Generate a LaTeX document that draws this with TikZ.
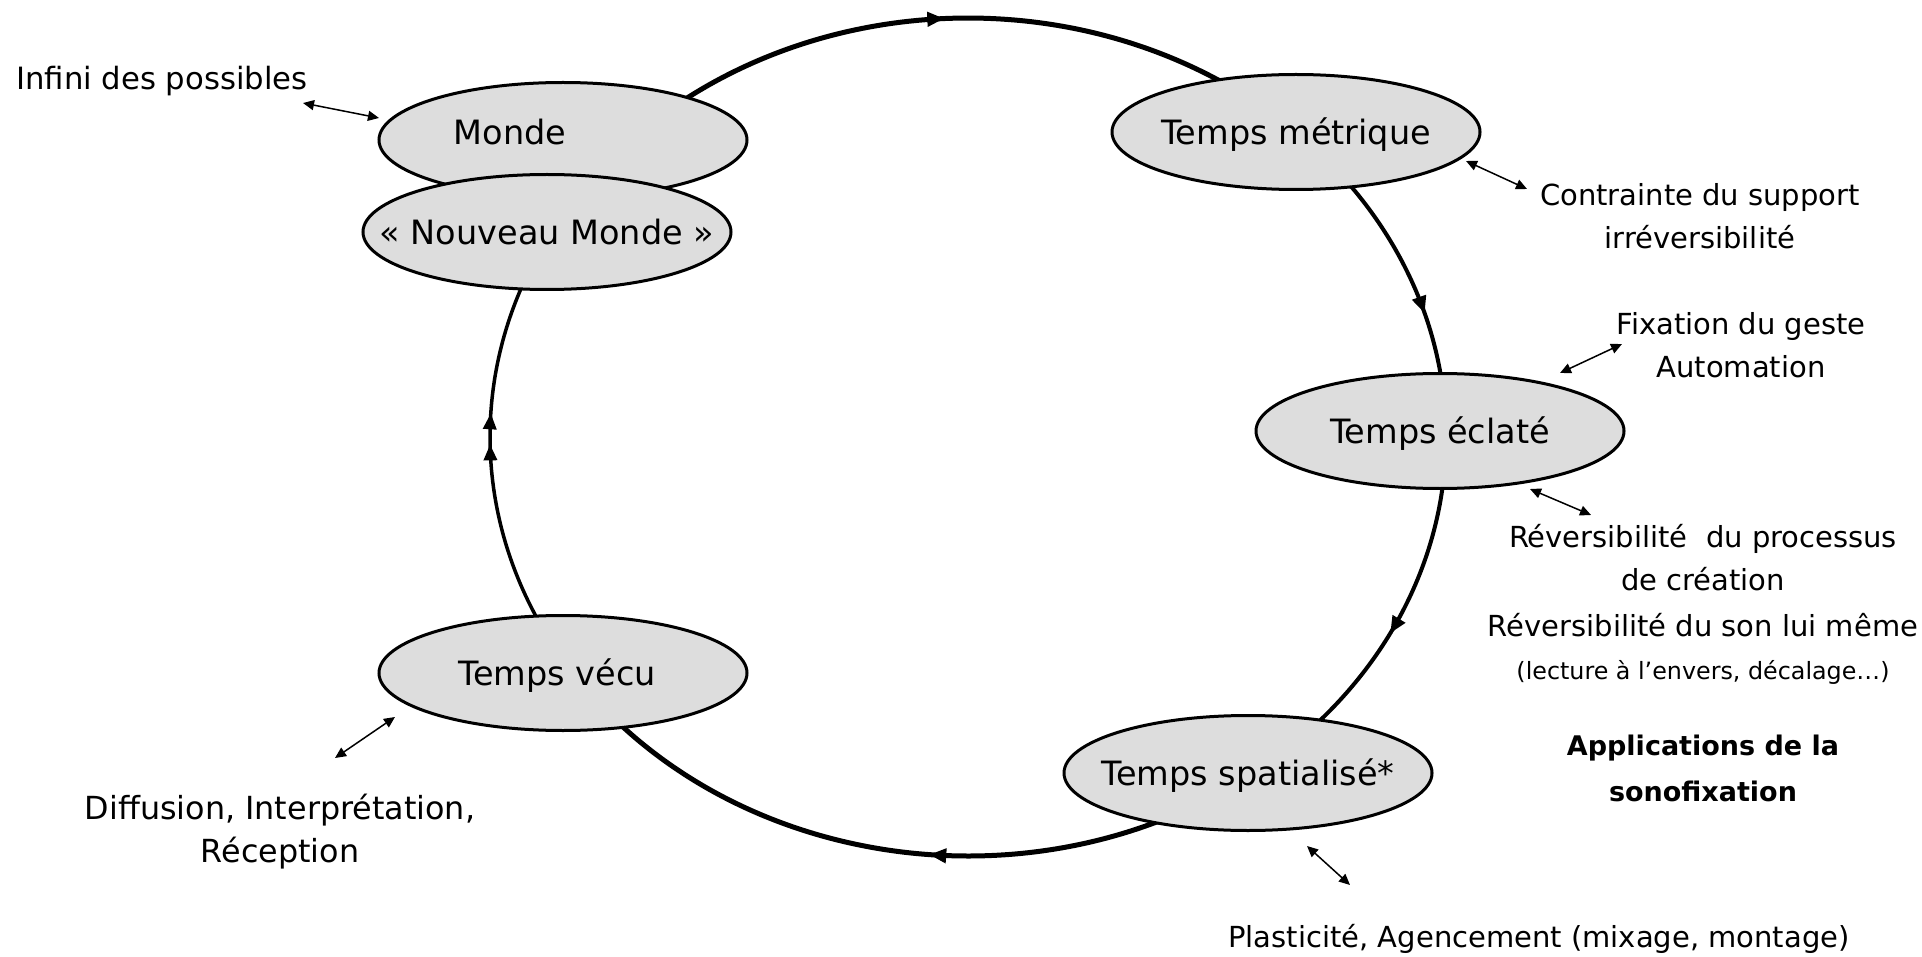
\documentclass[tikz,border=0pt]{standalone}
\usepackage{fontspec}
\setmainfont{DejaVu Sans}
\usetikzlibrary{shapes.geometric, arrows.meta, decorations.markings}
\definecolor{nodefill}{HTML}{DDDDDD}
\begin{document}
\begin{tikzpicture}[x=1pt,y=1pt,
  state/.style={ellipse, draw=black, line width=3pt, fill=nodefill, minimum width=368pt, minimum height=115pt, inner sep=0pt},
  statetext/.style={inner sep=0pt, font=\fontsize{33.5}{40}\selectfont},
  note/.style={align=center, inner sep=0pt, font=\fontsize{29}{43}\selectfont},
  boldnote/.style={align=center, inner sep=0pt, font=\bfseries\fontsize{27}{46}\selectfont},
  biarrow/.style={{Triangle[length=11pt,width=10pt]}-{Triangle[length=11pt,width=10pt]}, line width=1.5pt},
  flowtip/.style={postaction={decorate}, decoration={markings, mark=at position #1 with {\arrow{Triangle[length=17pt,width=14pt]}}}},
  twotips/.style 2 args={postaction={decorate}, decoration={markings, mark=at position #1 with {\arrow{Triangle[length=16pt,width=13pt]}}, mark=at position #2 with {\arrow{Triangle[length=16pt,width=13pt]}}}},
]
\useasboundingbox (0,0) rectangle (1922,-957);
\fill[white] (0,0) rectangle (1922,-957);

% cycle (ellipse arcs, clockwise)
\coordinate (C) at (968,-437);
\draw[line width=5pt, flowtip=0.479] ([shift={(126.4:478 and 419)}]C) arc[start angle=126.4, end angle=56.5, x radius=478, y radius=419];
\draw[line width=4pt, flowtip=0.664] ([shift={(38.7:478 and 419)}]C) arc[start angle=38.7, end angle=6, x radius=478, y radius=419];
\draw[line width=4pt, flowtip=0.572] ([shift={(-5:478 and 419)}]C) arc[start angle=-5, end angle=-44.5, x radius=478, y radius=419];
\draw[line width=5pt, flowtip=0.416] ([shift={(-64:478 and 419)}]C) arc[start angle=-64, end angle=-138.6, x radius=478, y radius=419];
\draw[line width=3.5pt, twotips={0.525}{0.61}] ([shift={(207:478 and 419)}]C) arc[start angle=207, end angle=157.4, x radius=478, y radius=419];

% states
\node[state, label={[statetext, shift={(-53pt,8pt)}]center:Monde}] (monde) at (563,-140) {};
\node[state, label={[statetext]center:« Nouveau Monde »}] (nouveau) at (547,-232) {};
\node[state, label={[statetext, shift={(0pt,-3pt)}]center:Temps métrique}] (metrique) at (1296,-132) {};
\node[state, label={[statetext, shift={(0pt,-3pt)}]center:Temps éclaté}] (eclate) at (1440,-431) {};
\node[state, label={[statetext, shift={(0pt,-3pt)}]center:Temps spatialisé*}] (spatial) at (1248,-773) {};
\node[state, label={[statetext, shift={(-6pt,-3pt)}]center:Temps vécu}] (vecu) at (563,-673) {};

% annotations
\node[note, anchor=west, font=\fontsize{30.7}{43}\selectfont] (infini) at (16,-81) {Infini des possibles};
\node[note] (contrainte) at (1700,-216) {Contrainte du support\\irréversibilité};
\node[note] (fixation) at (1741,-345) {Fixation du geste\\Automation};
\node[note] (reversib) at (1703,-604) {Réversibilité~ du processus\\de création\\[3pt]Réversibilité du son lui même\\{\fontsize{23.8}{30}\selectfont (lecture à l’envers, décalage…)}};
\node[boldnote] (applic) at (1703,-768) {Applications de la\\sonofixation};
\node[note] (plastic) at (1539,-939) {Plasticité, Agencement (mixage, montage)};
\node[note, font=\fontsize{31.8}{43}\selectfont] (diffusion) at (280,-832) {Diffusion, Interprétation,\\Réception};

% link arrows
\coordinate (i1) at (303,-103); \coordinate (i2) at (379,-118);
\coordinate (m1) at (1466,-161); \coordinate (m2) at (1527,-189);
\coordinate (f1) at (1560,-373); \coordinate (f2) at (1622,-344);
\coordinate (e1) at (1530,-489); \coordinate (e2) at (1591,-515);
\coordinate (s1) at (1307,-846); \coordinate (s2) at (1350,-885);
\coordinate (v1) at (395,-717); \coordinate (v2) at (335,-758);
\draw[biarrow] (i1) -- (i2);
\draw[biarrow] (m1) -- (m2);
\draw[biarrow] (f1) -- (f2);
\draw[biarrow] (e1) -- (e2);
\draw[biarrow] (s1) -- (s2);
\draw[biarrow] (v1) -- (v2);
\end{tikzpicture}
\end{document}
